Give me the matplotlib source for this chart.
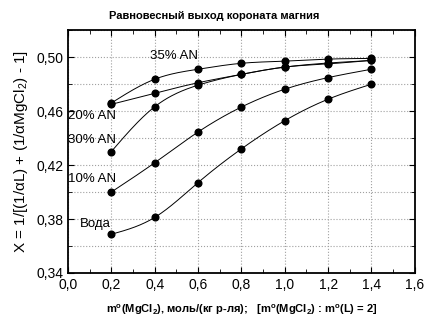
#Equilibrium yield of magnesium coronate vs MgCl2 molality
#for water and acetonitrile mixtures

import numpy as np
import matplotlib.pyplot as plt
from matplotlib.ticker import MultipleLocator, FixedLocator

plt.rcParams['font.family'] = ['Liberation Sans', 'DejaVu Sans']

m = [0.2, 0.4, 0.6, 0.8, 1.0, 1.2, 1.4]
an35 = [0.466, 0.4836, 0.491, 0.4954, 0.497, 0.4985, 0.499]
an20 = [0.465, 0.4732, 0.481, 0.4872, 0.4926, 0.495, 0.4976]
an30 = [0.430, 0.4632, 0.4792, 0.4872, 0.4926, 0.4956, 0.4975]
an10 = [0.400, 0.4217, 0.4445, 0.463, 0.4762, 0.4848, 0.491]
water = [0.3687, 0.3812, 0.407, 0.432, 0.4529, 0.4688, 0.4799]
yticks = [0.34, 0.38, 0.42, 0.46, 0.50]


def spline(x, y, n=200):
    #natural cubic spline, only used to draw the smooth line
    x = np.asarray(x, float)
    y = np.asarray(y, float)
    k = len(x)
    h = np.diff(x)
    A = np.zeros((k, k))
    b = np.zeros(k)
    A[0, 0] = A[-1, -1] = 1
    for i in range(1, k-1):
        A[i, i-1] = h[i-1]
        A[i, i] = 2*(h[i-1]+h[i])
        A[i, i+1] = h[i]
        b[i] = 3*((y[i+1]-y[i])/h[i]-(y[i]-y[i-1])/h[i-1])
    c = np.linalg.solve(A, b)
    xs = np.linspace(x[0], x[-1], n)
    j = np.clip(np.searchsorted(x, xs)-1, 0, k-2)
    d = xs-x[j]
    bb = (y[j+1]-y[j])/h[j]-h[j]*(2*c[j]+c[j+1])/3
    dd = (c[j+1]-c[j])/(3*h[j])
    return xs, y[j]+bb*d+c[j]*d**2+dd*d**3


f = plt.figure(figsize=(4.29, 3.23), dpi=100)
ax = f.add_axes([0.1585, 0.1548, 0.8085, 0.752])

for ys in [an35, an20, an30, an10, water]:
    xs, ss = spline(m, ys)
    ax.plot(xs, ss, "-", color="black", lw=0.7)
    ax.plot(m, ys, "o", color="black", ms=4.8)

ax.text(0.38, 0.4965, "35% AN", fontsize=9.5, va="bottom")
ax.text(0.0, 0.4565, "20% AN", fontsize=9.5, va="center")
ax.text(0.0, 0.4385, "30% AN", fontsize=9.5, va="center")
ax.text(0.0, 0.4095, "10% AN", fontsize=9.5, va="center")
ax.text(0.055, 0.3765, "Вода", fontsize=9.5, va="center")

ax.set_xlim(0, 1.6)
ax.set_ylim(0.34, 0.52)
ax.xaxis.set_major_locator(MultipleLocator(0.2))
ax.xaxis.set_minor_locator(MultipleLocator(0.1))
ax.yaxis.set_major_locator(FixedLocator(yticks))
ax.yaxis.set_minor_locator(FixedLocator([0.36, 0.40, 0.44, 0.48, 0.52]))
ax.xaxis.set_major_formatter(lambda v, p: ("%.1f" % v).replace(".", ","))
ax.yaxis.set_major_formatter(lambda v, p: ("%.2f" % v).replace(".", ","))
ax.tick_params(which="both", direction="in", top=True, right=True, labelsize=10)
ax.tick_params(which="major", length=4)
ax.tick_params(which="minor", length=3)
ax.grid(True, which="major", axis="x", ls=":", color="#a0a0a0", lw=0.8)
ax.grid(True, which="both", axis="y", ls=":", color="#a0a0a0", lw=0.8)
for s in ax.spines.values():
    s.set_linewidth(1.3)

f.suptitle("Равновесный выход короната магния", fontsize=8, fontweight="bold", y=0.965)
ax.set_xlabel("m$^\\mathregular{o}$(MgCl$_\\mathregular{2}$), моль/(кг р-ля);   [m$^\\mathregular{o}$(MgCl$_\\mathregular{2}$) : m$^\\mathregular{o}$(L) = 2]",
              fontsize=8, fontweight="bold", labelpad=8)
ax.set_ylabel("X = 1/[(1/$\\mathregular{\\alpha}$L) + (1/$\\mathregular{\\alpha}$MgCl$_\\mathregular{2}$) - 1]", fontsize=11)

f.savefig("out.png", dpi=100)
